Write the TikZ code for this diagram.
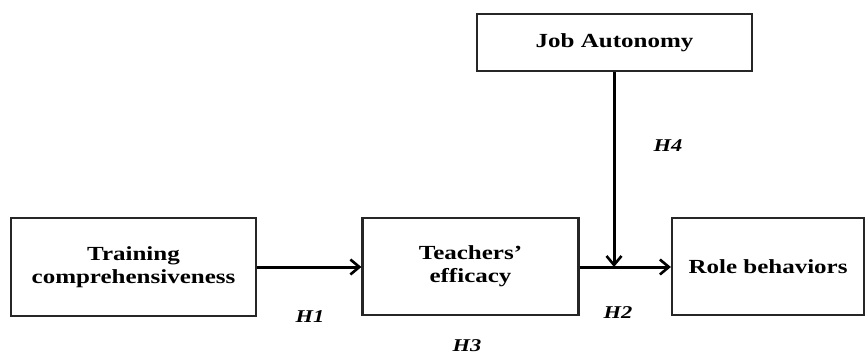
\documentclass[tikz,border=0pt]{standalone}
\usepackage{fontspec}
\setmainfont{Liberation Serif}[FakeStretch=1.25]
\usetikzlibrary{arrows.meta}
\begin{document}
\begin{tikzpicture}[x=1pt,y=-1pt,
  box/.style={draw=black!85,line width=2.2pt,fill=white,inner sep=0pt,align=center,font=\fontsize{20}{23}\selectfont\bfseries},
  conn/.style={line width=3pt,-{Straight Barb[length=9pt,width=15pt,line width=2.6pt]}},
  hlab/.style={font=\fontsize{18}{20}\selectfont\bfseries\itshape}]
\useasboundingbox (0,0) rectangle (866,355);
\node[box,minimum width=245pt,minimum height=98pt] (tc) at (133.5,267) {Training\\comprehensiveness};
\node[box,minimum width=216pt,minimum height=97pt] (te) at (470.5,266.5) {Teachers’\\efficacy};
\node[box,minimum width=192pt,minimum height=97pt] (rb) at (768,266.5) {Role behaviors};
\node[box,minimum width=275pt,minimum height=57pt] (ja) at (614.5,42.5) {Job Autonomy};
\coordinate (m) at (614,267);
\draw[conn] (tc.east |- 0,267) -- (te.west |- 0,267);
\draw[conn] (te.east |- 0,267) -- (rb.west |- 0,267);
\draw[conn] (ja.south -| m) -- (m);
\node[hlab,anchor=base] (h1) at (310,322) {H1};
\node[hlab,anchor=base] (h2) at (618,318) {H2};
\node[hlab,anchor=base] (h3) at (467,351) {H3};
\node[hlab,anchor=base] (h4) at (668,152) {H4};
\end{tikzpicture}
\end{document}
